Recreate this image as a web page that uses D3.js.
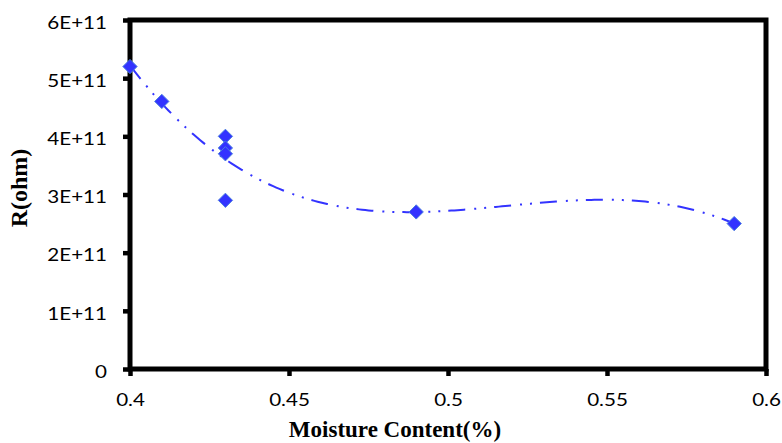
<!DOCTYPE html>
<html><head><meta charset="utf-8">
<script src="https://cdn.jsdelivr.net/npm/d3@7"></script>
<style>body{margin:0;background:#fff}</style>
</head><body><svg id="c" width="782" height="443"></svg>
<script>
const moisture = [0.40, 0.41, 0.43, 0.43, 0.43, 0.43, 0.49, 0.59];
const resistance = [5.2e11, 4.6e11, 4.0e11, 3.8e11, 3.7e11, 2.9e11, 2.7e11, 2.5e11];
const xTicks = [0.4, 0.45, 0.5, 0.55, 0.6];
const yTicks = [0, 1e11, 2e11, 3e11, 4e11, 5e11, 6e11];
const yTickLabels = ["0", "1E+11", "2E+11", "3E+11", "4E+11", "5E+11", "6E+11"];
const xTickLabels = ["0.4", "0.45", "0.5", "0.55", "0.6"];

const svg = d3.select("#c");
const x = d3.scaleLinear().domain([0.4, 0.6]).range([130, 766]);
const y = d3.scaleLinear().domain([0, 6e11]).range([369, 20]);

// cubic least-squares trendline (like Excel polynomial order 3)
function polyfit(xs, ys, deg) {
  const n = deg + 1;
  const A = Array.from({length: n}, () => new Array(n + 1).fill(0));
  xs.forEach((xv, k) => {
    const t = xv - 0.5;
    for (let i = 0; i < n; i++) {
      for (let j = 0; j < n; j++) A[i][j] += Math.pow(t, i + j);
      A[i][n] += Math.pow(t, i) * ys[k];
    }
  });
  for (let i = 0; i < n; i++) {
    let p = i;
    for (let r = i + 1; r < n; r++) if (Math.abs(A[r][i]) > Math.abs(A[p][i])) p = r;
    [A[i], A[p]] = [A[p], A[i]];
    for (let r = 0; r < n; r++) {
      if (r === i) continue;
      const f = A[r][i] / A[i][i];
      for (let c = i; c <= n; c++) A[r][c] -= f * A[i][c];
    }
  }
  const coef = A.map((row, i) => row[n] / row[i]);
  return xv => coef.reduce((s, c, i) => s + c * Math.pow(xv - 0.5, i), 0);
}
const fit = polyfit(moisture, resistance, 3);
const xs = d3.range(0.40, 0.5901, 0.001);
svg.append("path")
  .datum(xs)
  .attr("fill", "none")
  .attr("stroke", "#3333ff")
  .attr("stroke-width", 2)
  .attr("stroke-dasharray", "17,9,2,8,2,8")
  .attr("d", d3.line().x(d => x(d)).y(d => y(fit(d))));

const sx = 1.25;
const yAxis = d3.axisLeft(y).tickValues(yTicks).tickFormat((d, i) => yTickLabels[i]).tickSize(7).tickPadding(16);
const xAxis = d3.axisBottom(x).tickValues(xTicks).tickFormat((d, i) => xTickLabels[i]).tickSize(7).tickPadding(18);
const gy = svg.append("g").attr("transform", "translate(130,0)").call(yAxis);
const gx = svg.append("g").attr("transform", "translate(0,369)").call(xAxis);
[gx, gy].forEach(g => {
  g.select(".domain").remove();
  g.selectAll(".tick line").attr("stroke", "#000").attr("stroke-width", 4.5);
  g.selectAll(".tick text").attr("font-family", "Lato, 'Open Sans', sans-serif").attr("font-size", 16.5).attr("fill", "#000");
});
gy.selectAll(".tick text").attr("text-anchor", "end").attr("x", -23 / sx).attr("dy", "0.5em").attr("transform", `scale(${sx},1)`);
gx.selectAll(".tick text").attr("transform", `scale(${sx},1)`);

svg.append("rect").attr("x", 130).attr("y", 20).attr("width", 636).attr("height", 349)
  .attr("fill", "none").attr("stroke", "#000").attr("stroke-width", 5);

svg.append("g").selectAll("path").data(moisture).join("path")
  .attr("d", d3.symbol().type(d3.symbolDiamond2).size(130))
  .attr("transform", (d, i) => `translate(${x(d)},${y(resistance[i])})`)
  .attr("fill", "#3333ff").attr("stroke", "#4a7ee0").attr("stroke-width", 1);

svg.append("text").attr("x", 395).attr("y", 437).attr("text-anchor", "middle")
  .attr("font-family", "'Liberation Serif', 'Times New Roman', serif").attr("font-weight", "bold").attr("font-size", 23)
  .text("Moisture Content(%)");
svg.append("text").attr("transform", "translate(27,188) rotate(-90)").attr("text-anchor", "middle")
  .attr("font-family", "'Liberation Serif', 'Times New Roman', serif").attr("font-weight", "bold").attr("font-size", 24)
  .text("R(ohm)");
</script></body></html>
